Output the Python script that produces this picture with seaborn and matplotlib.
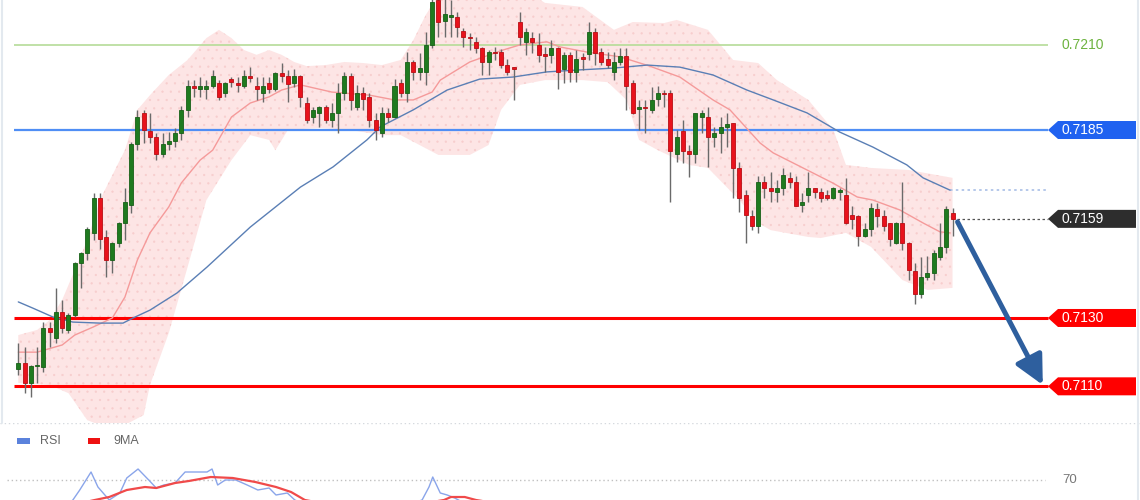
import matplotlib
matplotlib.use("Agg")
import matplotlib.pyplot as plt
from matplotlib.patches import Polygon, Rectangle
from matplotlib.lines import Line2D
import numpy as np
import pandas as pd
import seaborn as sns

# ---- candles (oldest first) ----
opens = [
    0.71151, 0.71168, 0.71110, 0.71159, 0.71157, 0.71271, 0.71241, 0.71317, 0.71265, 0.71309,
    0.71461, 0.71490, 0.71549, 0.71651, 0.71537, 0.71470, 0.71519, 0.71578, 0.71631, 0.71809,
    0.71900, 0.71847, 0.71830, 0.71780, 0.71809, 0.71818, 0.71841, 0.71909, 0.71979, 0.71970,
    0.71970, 0.71979, 0.71988, 0.71958, 0.71999, 0.71988, 0.71979, 0.72008, 0.71979, 0.71958,
    0.71988, 0.71970, 0.72017, 0.72008, 0.71988, 0.72008, 0.71929, 0.71888, 0.71900, 0.71917,
    0.71879, 0.71900, 0.71958, 0.72008, 0.71917, 0.71958, 0.71947, 0.71879, 0.71841, 0.71900,
    0.71888, 0.71988, 0.71958, 0.72049, 0.72020, 0.72020, 0.72099, 0.72230, 0.72169, 0.72181,
    0.72181, 0.72140, 0.72122, 0.72108, 0.72090, 0.72049, 0.72078, 0.72078, 0.72040, 0.72031,
    0.72166, 0.72108, 0.72119, 0.72099, 0.72070, 0.72070, 0.72090, 0.72029, 0.72070, 0.72020,
    0.72061, 0.72072, 0.72137, 0.72078, 0.72058, 0.72020, 0.72049, 0.72067, 0.71988, 0.71911,
    0.71917, 0.71909, 0.71941, 0.71958, 0.71958, 0.71780, 0.71847, 0.71789, 0.71780, 0.71888,
    0.71888, 0.71830, 0.71841, 0.71859, 0.71871, 0.71739, 0.71660, 0.71598, 0.71569, 0.71698,
    0.71680, 0.71669, 0.71680, 0.71710, 0.71698, 0.71631, 0.71660, 0.71680, 0.71669, 0.71660,
    0.71651, 0.71669, 0.71660, 0.71601, 0.71598, 0.71540, 0.71560, 0.71619, 0.71598, 0.71578,
    0.71519, 0.71578, 0.71519, 0.71437, 0.71370, 0.71420, 0.71432, 0.71478, 0.71508, 0.71607,
]
highs = [
    0.71227, 0.71215, 0.71162, 0.71215, 0.71288, 0.71288, 0.71388, 0.71353, 0.71315, 0.71464,
    0.71493, 0.71566, 0.71666, 0.71666, 0.71557, 0.71522, 0.71581, 0.71680, 0.71815, 0.71909,
    0.71909, 0.71900, 0.71841, 0.71841, 0.71844, 0.71856, 0.71920, 0.71996, 0.71996, 0.72005,
    0.71996, 0.72026, 0.71996, 0.71990, 0.72005, 0.72005, 0.72026, 0.72034, 0.72005, 0.72005,
    0.72005, 0.72020, 0.72046, 0.72026, 0.72029, 0.72011, 0.71947, 0.71917, 0.71920, 0.71923,
    0.71929, 0.71988, 0.72020, 0.72017, 0.71982, 0.71976, 0.71958, 0.71900, 0.71917, 0.71914,
    0.71999, 0.71999, 0.72078, 0.72055, 0.72075, 0.72137, 0.72260, 0.72254, 0.72239, 0.72230,
    0.72195, 0.72149, 0.72134, 0.72122, 0.72093, 0.72084, 0.72093, 0.72087, 0.72058, 0.72034,
    0.72195, 0.72149, 0.72137, 0.72134, 0.72093, 0.72113, 0.72093, 0.72078, 0.72078, 0.72084,
    0.72075, 0.72166, 0.72149, 0.72090, 0.72078, 0.72078, 0.72090, 0.72090, 0.71996, 0.71938,
    0.71938, 0.71976, 0.71979, 0.71967, 0.71967, 0.71850, 0.71879, 0.71806, 0.71900, 0.71909,
    0.71917, 0.71859, 0.71888, 0.71900, 0.71871, 0.71756, 0.71674, 0.71616, 0.71715, 0.71715,
    0.71727, 0.71704, 0.71739, 0.71727, 0.71715, 0.71666, 0.71727, 0.71680, 0.71680, 0.71674,
    0.71683, 0.71680, 0.71710, 0.71628, 0.71601, 0.71578, 0.71636, 0.71636, 0.71616, 0.71578,
    0.71581, 0.71698, 0.71522, 0.71461, 0.71478, 0.71481, 0.71499, 0.71578, 0.71628, 0.71622,
]
lows = [
    0.71133, 0.71080, 0.71069, 0.71110, 0.71142, 0.71215, 0.71227, 0.71256, 0.71256, 0.71303,
    0.71388, 0.71470, 0.71528, 0.71502, 0.71420, 0.71432, 0.71508, 0.71528, 0.71607, 0.71791,
    0.71812, 0.71812, 0.71762, 0.71771, 0.71791, 0.71800, 0.71821, 0.71888, 0.71947, 0.71947,
    0.71941, 0.71973, 0.71938, 0.71947, 0.71976, 0.71961, 0.71973, 0.71990, 0.71938, 0.71932,
    0.71958, 0.71964, 0.71990, 0.71932, 0.71976, 0.71917, 0.71871, 0.71871, 0.71859, 0.71871,
    0.71859, 0.71841, 0.71938, 0.71909, 0.71909, 0.71909, 0.71859, 0.71821, 0.71830, 0.71873,
    0.71885, 0.71947, 0.71932, 0.71996, 0.71996, 0.71982, 0.72090, 0.72122, 0.72122, 0.72122,
    0.72122, 0.72093, 0.72084, 0.72075, 0.72011, 0.72011, 0.72055, 0.72031, 0.72011, 0.71938,
    0.72099, 0.72070, 0.72075, 0.72049, 0.72020, 0.72046, 0.71970, 0.71988, 0.71990, 0.71990,
    0.72026, 0.72055, 0.72040, 0.72040, 0.72031, 0.71996, 0.72040, 0.71909, 0.71897, 0.71850,
    0.71841, 0.71900, 0.71920, 0.71917, 0.71639, 0.71756, 0.71753, 0.71712, 0.71753, 0.71841,
    0.71742, 0.71800, 0.71783, 0.71800, 0.71651, 0.71610, 0.71519, 0.71557, 0.71549, 0.71651,
    0.71639, 0.71639, 0.71660, 0.71680, 0.71628, 0.71610, 0.71639, 0.71651, 0.71639, 0.71645,
    0.71648, 0.71645, 0.71575, 0.71560, 0.71511, 0.71537, 0.71540, 0.71566, 0.71555, 0.71511,
    0.71516, 0.71499, 0.71411, 0.71341, 0.71358, 0.71411, 0.71411, 0.71470, 0.71490, 0.71540,
]
closes = [
    0.71168, 0.71110, 0.71159, 0.71162, 0.71271, 0.71259, 0.71317, 0.71271, 0.71309, 0.71461,
    0.71490, 0.71560, 0.71651, 0.71531, 0.71470, 0.71519, 0.71578, 0.71639, 0.71809, 0.71888,
    0.71850, 0.71830, 0.71780, 0.71809, 0.71818, 0.71841, 0.71909, 0.71979, 0.71973, 0.71979,
    0.71979, 0.72008, 0.71947, 0.71988, 0.71990, 0.71982, 0.72008, 0.72002, 0.71970, 0.71979,
    0.71970, 0.72017, 0.72008, 0.71985, 0.72008, 0.71947, 0.71879, 0.71909, 0.71917, 0.71879,
    0.71900, 0.71958, 0.72008, 0.71938, 0.71958, 0.71941, 0.71879, 0.71850, 0.71900, 0.71888,
    0.71979, 0.71958, 0.72049, 0.72020, 0.72031, 0.72099, 0.72225, 0.72166, 0.72189, 0.72184,
    0.72151, 0.72122, 0.72119, 0.72090, 0.72049, 0.72078, 0.72075, 0.72040, 0.72020, 0.72029,
    0.72122, 0.72137, 0.72108, 0.72070, 0.72067, 0.72090, 0.72020, 0.72070, 0.72020, 0.72058,
    0.72058, 0.72137, 0.72075, 0.72049, 0.72040, 0.72049, 0.72067, 0.71979, 0.71900, 0.71917,
    0.71914, 0.71938, 0.71958, 0.71955, 0.71789, 0.71830, 0.71789, 0.71780, 0.71900, 0.71900,
    0.71830, 0.71841, 0.71859, 0.71868, 0.71739, 0.71651, 0.71601, 0.71569, 0.71698, 0.71680,
    0.71672, 0.71680, 0.71718, 0.71698, 0.71628, 0.71639, 0.71680, 0.71669, 0.71651, 0.71651,
    0.71680, 0.71672, 0.71578, 0.71590, 0.71540, 0.71560, 0.71622, 0.71598, 0.71569, 0.71531,
    0.71578, 0.71519, 0.71440, 0.71370, 0.71420, 0.71432, 0.71490, 0.71508, 0.71619, 0.71590,
]

# ---- bollinger band edges (candle index, price) ----
bb_upper_x = [0, 3, 5, 7, 9, 11, 13, 15, 17, 19, 21, 24, 27, 30, 32, 34, 36, 38, 40, 42, 44, 46,
              49, 52, 55, 58, 61, 63, 65, 67, 74, 82, 84, 90, 95, 98, 103, 105, 110, 114, 118,
              121, 126, 130, 132, 136, 142, 149]
bb_upper_y = [0.71250, 0.71265, 0.71294, 0.71353, 0.71440, 0.71528, 0.71645, 0.71718, 0.71791,
              0.71909, 0.71952, 0.72011, 0.72055, 0.72119, 0.72143, 0.72119, 0.72084, 0.72070,
              0.72084, 0.72070, 0.72049, 0.72037, 0.72040, 0.72049, 0.72046, 0.72040, 0.72055,
              0.72113, 0.72187, 0.72245, 0.72260, 0.72245, 0.72222, 0.72210, 0.72143, 0.72166,
              0.72163, 0.72172, 0.72143, 0.72055, 0.72046, 0.71996, 0.71938, 0.71850, 0.71748,
              0.71739, 0.71733, 0.71710]
bb_lower_x = [0, 5, 8, 11, 13, 17, 20, 21, 24, 27, 30, 34, 37, 40, 41, 43, 48, 53, 58, 61, 64,
              67, 72, 75, 77, 80, 84, 90, 94, 97, 99, 102, 107, 110, 115, 118, 120, 126, 128,
              132, 136, 141, 145, 149]
bb_lower_y = [0.71110, 0.71104, 0.71080, 0.71001, 0.70987, 0.70987, 0.71016, 0.71104, 0.71256,
              0.71449, 0.71645, 0.71762, 0.71835, 0.71821, 0.71791, 0.71850, 0.71856, 0.71850,
              0.71835, 0.71835, 0.71806, 0.71777, 0.71777, 0.71806, 0.71909, 0.71982, 0.71996,
              0.71996, 0.71990, 0.71938, 0.71821, 0.71791, 0.71748, 0.71739, 0.71645, 0.71578,
              0.71557, 0.71537, 0.71534, 0.71549, 0.71508, 0.71411, 0.71382, 0.71388]

# ---- moving averages ----
ma_fast_x = [0, 3, 7, 9, 12, 15, 17, 19, 21, 24, 26, 29, 31, 34, 37, 40, 42, 45, 50, 56, 60,
             63, 66, 67.3, 72, 77.3, 80, 84.3, 86.4, 90.7, 96, 100.7, 105.5, 110.8, 113.5,
             118.3, 120.4, 125.8, 129.9, 133.8, 136.3, 140.6, 144.3, 147, 148.6]
ma_fast_y = [0.71200, 0.71200, 0.71221, 0.71250, 0.71274, 0.71300, 0.71361, 0.71470, 0.71549,
             0.71625, 0.71695, 0.71762, 0.71791, 0.71888, 0.71929, 0.71947, 0.71967, 0.71982,
             0.71961, 0.71952, 0.71938, 0.71938, 0.71961, 0.71996, 0.72049, 0.72084, 0.72099,
             0.72108, 0.72093, 0.72078, 0.72064, 0.72037, 0.72005, 0.71938, 0.71909, 0.71812,
             0.71783, 0.71733, 0.71695, 0.71654, 0.71645, 0.71616, 0.71578, 0.71552, 0.71549]
ma_slow_x = [0, 2.3, 5.5, 8.7, 13, 16.7, 18.3, 21, 25.3, 30.1, 37, 45, 50.2, 55.6, 57.7, 63,
             68.4, 73.6, 78.9, 84.3, 89.6, 94.8, 100.3, 105.5, 110.8, 116.2, 120.4, 125.8,
             131, 136.3, 141.7, 144.3, 148.6]
ma_slow_y = [0.71347, 0.71329, 0.71303, 0.71288, 0.71285, 0.71285, 0.71300, 0.71323, 0.71373,
             0.71449, 0.71566, 0.71683, 0.71742, 0.71821, 0.71859, 0.71909, 0.71967, 0.71999,
             0.72005, 0.72020, 0.72026, 0.72031, 0.72040, 0.72034, 0.72011, 0.71967, 0.71938,
             0.71900, 0.71844, 0.71800, 0.71748, 0.71710, 0.71674]

# ---- levels ----
level_prices = [0.7210, 0.7185, 0.7159, 0.7130, 0.7110]
level_labels = ["0.7210", "0.7185", "0.7159", "0.7130", "0.7110"]
target_from = (149.8, 0.71581)
target_to = (163.4, 0.71104)

# ---- RSI panel ----
rsi_x = [0, 4, 8, 8.7, 9.8, 11.6, 12.7, 14.5, 16.2, 17.3, 19.1, 20.8, 22, 23.2, 25, 26.6, 28.3,
         30.1, 30.9, 31.8, 33, 34.7, 36.5, 38.2, 40, 41.1, 42.9, 44.1, 46, 50, 55, 60, 63,
         64.4, 65.5, 66.1, 67.3, 68.4, 69.6, 70.8, 80, 90, 100, 110, 120, 130, 140, 149]
rsi_y = [38, 44, 46, 50, 60, 78, 63, 50, 57, 72, 81, 70, 62, 65, 67, 78, 78,
         78, 81, 65, 70, 70, 65, 60, 62, 55, 57, 50, 45, 40, 38, 44, 47,
         50, 63, 73, 57, 55, 52, 48, 40, 42, 35, 30, 28, 32, 30, 40]
rsi_ma_x = [0, 6, 10, 12.2, 14.5, 17.3, 20.2, 22, 25, 27.2, 30.7, 34.2, 37.8, 41.1, 43.5, 45.7,
            50, 56, 62, 66, 67.9, 69, 71.2, 73, 76, 85, 100, 120, 140, 149]
rsi_ma_y = [40, 44, 47, 50, 53, 60, 63, 62, 67, 69, 73, 72, 68, 63, 58, 50,
            45, 42, 45, 48, 50, 53, 53, 50, 47, 42, 38, 32, 31, 34]

# ---------------------------------------------------------------
sns.set_theme(style="white")
plt.rcParams["font.family"] = ["Liberation Sans", "DejaVu Sans"]
plt.rcParams["hatch.linewidth"] = 0.4

W, H = 1140, 500
PX = 6.27   # pixels per candle
X0 = 18.3   # pixel of the first candle


def pxi(x):
    return (x - X0) / PX


fig = plt.figure(figsize=(W / 100, H / 100), dpi=100)
fig.patch.set_facecolor("white")
ax = fig.add_axes([0, 77 / H, 1, 423 / H])
rax = fig.add_axes([0, 0, 1, 77 / H])
for a in (ax, rax):
    a.set_xlim(pxi(0), pxi(W))
    a.set_axis_off()
ax.set_ylim(0.709927, 0.722304)
rax.set_ylim(50, 127)

df = pd.DataFrame({"open": opens, "high": highs, "low": lows, "close": closes})
df["i"] = np.arange(len(df))
up = df["close"] >= df["open"]

# bollinger envelope
env_x = bb_upper_x + bb_lower_x[::-1]
env_y = bb_upper_y + bb_lower_y[::-1]
ax.fill(env_x, env_y, facecolor="#fde5e5", edgecolor="#f7cdcd", hatch="..",
        linewidth=0, zorder=1)

# level lines
xl, xr = pxi(14), pxi(1048)
ax.hlines(level_prices[0], xl, xr, color="#b5dc98", lw=1.2, zorder=2)
ax.hlines(level_prices[1], xl, xr, color="#4f8ef5", lw=1.6, zorder=2)
ax.hlines(level_prices[3], xl, xr, color="#ff0000", lw=2.2, zorder=2)
ax.hlines(level_prices[4], xl, xr, color="#ff0000", lw=2.2, zorder=2)
ax.hlines(closes[-1], pxi(957), xr, color="#555555", lw=0.9, ls=(0, (2, 2)), zorder=2)
ax.hlines(ma_slow_y[-1], ma_slow_x[-1], xr, color="#a9bfe6", lw=1.2, ls=(0, (1.5, 2)), zorder=2)

# moving averages
sns.lineplot(x=ma_fast_x, y=ma_fast_y, ax=ax, color="#f59a9a", lw=1.0, zorder=3, estimator=None)
sns.lineplot(x=ma_slow_x, y=ma_slow_y, ax=ax, color="#5a7fb5", lw=1.0, zorder=3, estimator=None)

# candles
ax.vlines(df["i"], df["low"], df["high"], color="#6a6a6a", lw=1.0, zorder=4)
body_lo = np.minimum(df["open"], df["close"])
body_h = np.maximum(np.abs(df["close"] - df["open"]), 0.000045)
cols = np.where(up, "#1f7a1f", "#e8121c")
edges = np.where(up, "#175f17", "#b80e14")
ax.bar(df["i"], body_h, bottom=body_lo, width=0.64, color=cols, edgecolor=edges,
       linewidth=0.6, zorder=5)

# target arrow
ax.annotate("", xy=target_to, xytext=target_from,
            arrowprops=dict(arrowstyle="-|>,head_length=0.8,head_width=0.4",
                            color="#2e5f9e", lw=3.6, mutation_scale=22,
                            shrinkA=0, shrinkB=0), zorder=6)

# price tags
half = 9 * 0.00002926
tip, body_l, body_r = pxi(1048), pxi(1058), pxi(1136)
tag_colors = {1: "#2062f0", 2: "#2d2d2d", 3: "#ff0000", 4: "#ff0000"}
for k, col in tag_colors.items():
    p = level_prices[k]
    ax.add_patch(Polygon([(tip, p), (body_l, p + half), (body_r, p + half),
                          (body_r, p - half), (body_l, p - half)],
                         closed=True, facecolor=col, edgecolor="none", zorder=7))
    ax.text(pxi(1061), p, level_labels[k], color="white", fontsize=10,
            va="center", ha="left", zorder=8)
ax.text(pxi(1061), level_prices[0], level_labels[0], color="#6db33f", fontsize=10,
        va="center", ha="left", zorder=8)

# RSI panel
rax.axhline(126.6, color="#d5d9de", lw=1.0, ls=(0, (1, 2)))
rax.hlines(70, pxi(7), pxi(1045), color="#c0c0c0", lw=1.0, ls=(0, (1, 2)))
rax.text(pxi(1062), 70, "70", color="#777777", fontsize=9.5, va="center", ha="left")
sns.lineplot(x=rsi_x, y=rsi_y, ax=rax, color="#8aa5ea", lw=1.0, estimator=None)
sns.lineplot(x=rsi_ma_x, y=rsi_ma_y, ax=rax, color="#f04a4a", lw=1.6, estimator=None)
rax.set_xlim(pxi(0), pxi(W))
rax.set_ylim(50, 127)
rax.add_patch(Rectangle((pxi(17), 106), 13 / PX, 6, facecolor="#5b82dc", edgecolor="none"))
rax.text(pxi(40), 109, "RSI", color="#666666", fontsize=9, va="center", ha="left")
rax.add_patch(Rectangle((pxi(88), 106), 12 / PX, 6, facecolor="#ee1111", edgecolor="none"))
rax.text(pxi(113), 109, "9MA", color="#666666", fontsize=9, va="center", ha="left")

# faint frame lines at the sides
fig.add_artist(Line2D([2 / W, 2 / W], [77 / H, 1], color="#e3e9ef", lw=1.5))
fig.add_artist(Line2D([1138 / W, 1138 / W], [0, 1], color="#e3e9ef", lw=1.5))

fig.savefig("out.png", dpi=100, facecolor="white")
